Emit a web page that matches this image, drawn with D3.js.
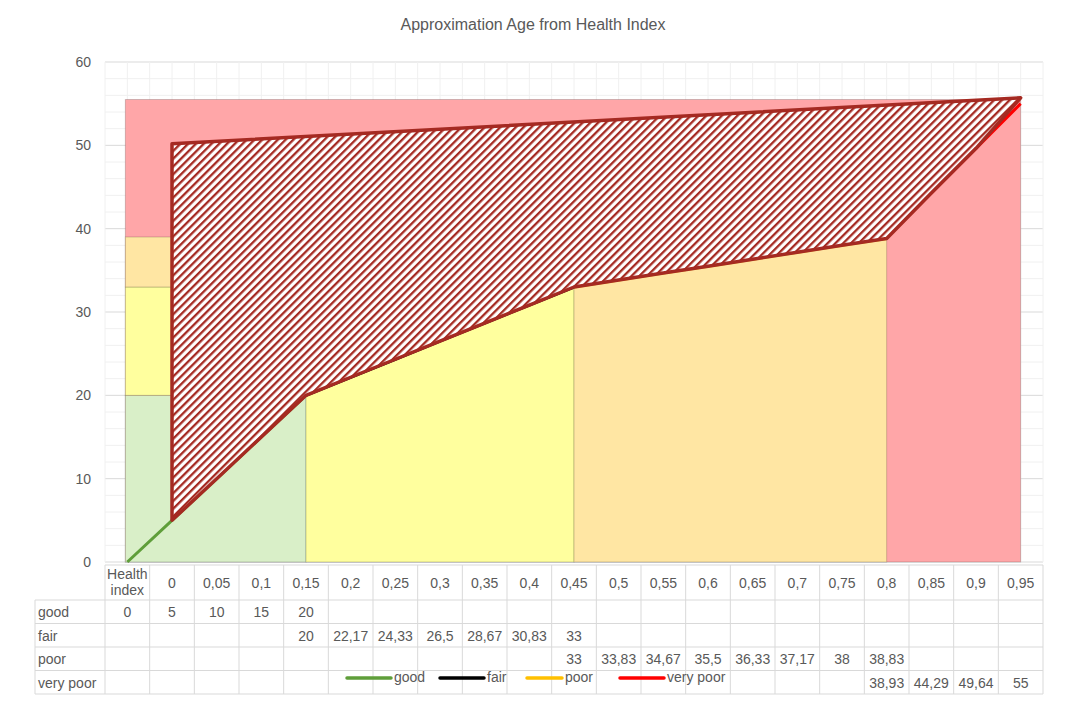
<!DOCTYPE html>
<html>
<head>
<meta charset="utf-8">
<script src="https://cdn.jsdelivr.net/npm/d3@7"></script>
<style>
  body { margin: 0; background: #fff; font-family: Arial, "Liberation Sans", sans-serif; }
</style>
</head>
<body>
<div id="chart"></div>
<script>
// categories and table data
const categories = ['Health index', '0', '0,05', '0,1', '0,15', '0,2', '0,25', '0,3', '0,35', '0,4', '0,45',
  '0,5', '0,55', '0,6', '0,65', '0,7', '0,75', '0,8', '0,85', '0,9', '0,95'];
const good = [0, 5, 10, 15, 20, null, null, null, null, null, null, null, null, null, null, null, null, null, null, null, null];
const fair = [null, null, null, null, 20, 22.17, 24.33, 26.5, 28.67, 30.83, 33, null, null, null, null, null, null, null, null, null, null];
const poor = [null, null, null, null, null, null, null, null, null, null, 33, 33.83, 34.67, 35.5, 36.33, 37.17, 38, 38.83, null, null, null];
const veryPoor = [null, null, null, null, null, null, null, null, null, null, null, null, null, null, null, null, null, 38.93, 44.29, 49.64, 55];
const seriesNames = ['good', 'fair', 'poor', 'very poor'];
const seriesColors = ['#5f9e3a', '#000000', '#ffc000', '#ff0000'];

// zone bands: [from cat, to cat, y0, y1, fill]
const zones = [
  [0, 20, 0, 55.5, '#ffa6a8'],
  [0, 4, 0, 20, '#d9efc8'],
  [0, 1, 20, 33, '#ffff9e'],
  [4, 10, 0, 33, '#ffff9e'],
  [0, 1, 33, 39, '#ffe6a3'],
  [10, 17, 0, 38.9, '#ffe6a3']
];
// upper edge of hatched region
const hatchTop = [[1, 50.2], [20, 55.7]];

const width = 1066, height = 704;
const margin = { t: 62, l: 105, r: 23, b: 142 };
const W = width - margin.l - margin.r;
const H = height - margin.t - margin.b;

const svg = d3.select('#chart').append('svg')
  .attr('width', width).attr('height', height);

svg.append('text')
  .attr('x', width / 2).attr('y', 30)
  .attr('text-anchor', 'middle')
  .style('font-size', '16px').style('fill', '#595959')
  .text('Approximation Age from Health Index');

const x = d3.scaleBand().domain(d3.range(categories.length)).range([0, W]);
const cx = i => x(i) + x.bandwidth() / 2;
const y = d3.scaleLinear().domain([0, 60]).range([H, 0]);

const g = svg.append('g').attr('transform', `translate(${margin.l}, ${margin.t})`);

// grid
g.append('g').selectAll('line').data(d3.range(0, 61, 2))
  .join('line')
  .attr('x1', 0).attr('x2', W)
  .attr('y1', d => y(d)).attr('y2', d => y(d))
  .style('stroke', d => d % 10 === 0 ? '#d9d9d9' : '#f0f0f0');
g.append('g').selectAll('line').data(d3.range(0, categories.length * 2 + 1))
  .join('line')
  .attr('x1', d => d * x.bandwidth() / 2).attr('x2', d => d * x.bandwidth() / 2)
  .attr('y1', 0).attr('y2', H)
  .style('stroke', '#f0f0f0');

// zones
g.append('g').selectAll('rect').data(zones)
  .join('rect')
  .attr('x', d => cx(d[0]) - (d[0] === 0 ? 2 : 0))
  .attr('width', d => cx(d[1]) - cx(d[0]) + (d[0] === 0 ? 2 : 0))
  .attr('y', d => y(d[3]))
  .attr('height', d => y(d[2]) - y(d[3]))
  .style('fill', d => d[4])
  .style('stroke', 'rgba(0,0,0,0.18)');

// series lines
const allSeries = [good, fair, poor, veryPoor];
const line = d3.line()
  .defined(d => d != null)
  .x((d, i) => cx(i)).y(d => y(d));
g.append('g').selectAll('path').data(allSeries)
  .join('path')
  .attr('d', line)
  .style('fill', 'none')
  .style('stroke', (d, i) => seriesColors[i])
  .style('stroke-width', 3);

// hatch pattern
const defs = svg.append('defs');
const pat = defs.append('pattern')
  .attr('id', 'hatch').attr('patternUnits', 'userSpaceOnUse')
  .attr('width', 5.5).attr('height', 6)
  .attr('patternTransform', 'rotate(45)');
pat.append('rect').attr('width', 5.5).attr('height', 6).style('fill', '#fff');
pat.append('rect').attr('width', 2.3).attr('height', 6).style('fill', '#a52a22');

// hatched region: lower edge from series, upper edge straight
const lower = [];
for (let i = 1; i < categories.length; i++) {
  const v = i <= 4 ? good[i] : i <= 10 ? fair[i] : i <= 17 ? poor[i] : veryPoor[i];
  lower.push([cx(i), y(i === 20 ? hatchTop[1][1] : v)]);
}
const upper = hatchTop.slice().reverse().map(d => [cx(d[0]), y(d[1])]);
g.append('path')
  .attr('d', d3.line()(lower.concat(upper)) + 'Z')
  .style('fill', 'url(#hatch)')
  .style('stroke', '#a52a22')
  .style('stroke-width', 3.5)
  .style('stroke-linejoin', 'round');

// y axis
const yAxis = g.append('g').call(d3.axisLeft(y).tickValues(d3.range(0, 61, 10)).tickSize(0).tickPadding(14));
yAxis.select('.domain').remove();
yAxis.selectAll('text').style('font-size', '14px').style('fill', '#595959').attr('font-family', 'Arial, "Liberation Sans", sans-serif');

// data table
const rowH = [35, 23.5, 23.5, 23.5, 23.5];
const tableTop = margin.t + H + 3;
const labelLeft = 35;
const t = svg.append('g').style('font-size', '14px').style('fill', '#595959');
const rowY = d3.cumsum([0].concat(rowH)).map(v => tableTop + v);
const tableColor = '#d9d9d9';

t.selectAll('line.h').data(rowY)
  .join('line')
  .attr('x1', (d, i) => i === 0 ? margin.l : labelLeft)
  .attr('x2', margin.l + W)
  .attr('y1', d => d).attr('y2', d => d)
  .style('stroke', tableColor);
const vx = d3.range(categories.length + 1).map(i => margin.l + i * x.bandwidth());
t.selectAll('line.v').data(vx)
  .join('line')
  .attr('x1', d => d).attr('x2', d => d)
  .attr('y1', rowY[0]).attr('y2', rowY[5])
  .style('stroke', tableColor);
t.append('line').attr('x1', labelLeft).attr('x2', labelLeft)
  .attr('y1', rowY[1]).attr('y2', rowY[5]).style('stroke', tableColor);

// header
categories.forEach((c, i) => {
  const tx = t.append('text').attr('x', margin.l + cx(i)).attr('text-anchor', 'middle').style('fill', '#595959');
  if (i === 0) {
    tx.append('tspan').attr('x', margin.l + cx(i)).attr('y', rowY[0] + 14).text('Health');
    tx.append('tspan').attr('x', margin.l + cx(i)).attr('y', rowY[0] + 30).text('index');
  } else {
    tx.attr('y', rowY[0] + 23).text(c);
  }
});

const fmt = v => String(v).replace('.', ',');
allSeries.forEach((s, r) => {
  t.append('text').attr('x', labelLeft + 3).attr('y', rowY[r + 1] + 17)
    .style('fill', '#595959').text(seriesNames[r]);
  s.forEach((v, i) => {
    if (v == null) return;
    t.append('text').attr('x', margin.l + cx(i)).attr('y', rowY[r + 1] + 17)
      .attr('text-anchor', 'middle').style('fill', '#595959').text(fmt(v));
  });
});

// legend
const legendX = [347, 440, 527, 620];
const legend = svg.append('g').selectAll('g').data(seriesNames)
  .join('g')
  .attr('transform', (d, i) => `translate(${legendX[i]}, 678)`);
legend.append('line')
  .attr('x1', 0).attr('x2', (d, i) => i === 2 ? 35 : 44)
  .style('stroke', (d, i) => seriesColors[i])
  .style('stroke-width', 3.5).style('stroke-linecap', 'round');
legend.append('text')
  .attr('x', (d, i) => (i === 2 ? 35 : 44) + 3).attr('y', 4)
  .style('font-size', '14px').style('fill', '#595959')
  .text(d => d);
</script>
</body>
</html>
